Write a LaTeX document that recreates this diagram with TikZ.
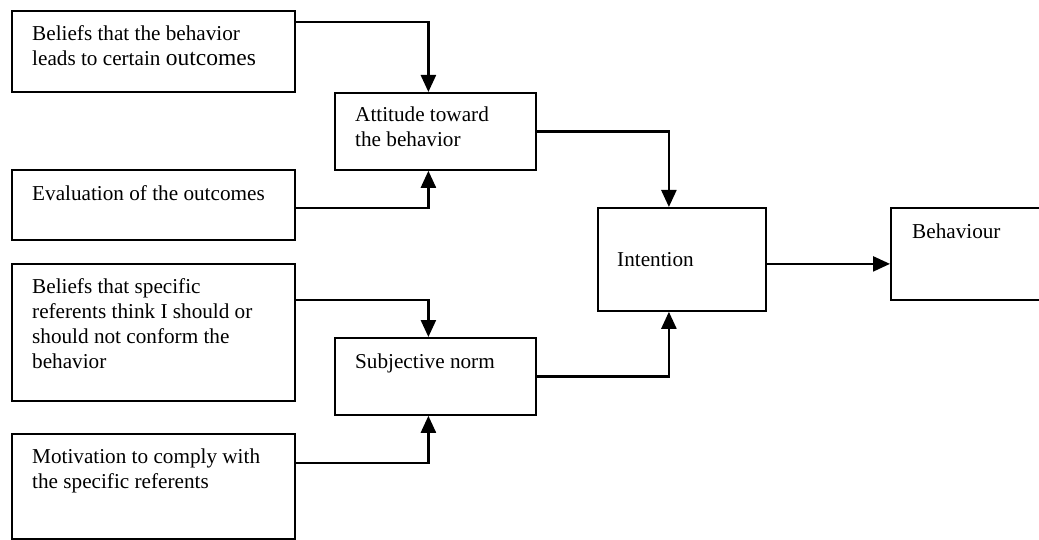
\documentclass[tikz,border=0pt]{standalone}
\usepackage{fontspec}
\setmainfont{Liberation Serif}
\usetikzlibrary{arrows.meta,calc}

\tikzset{
  box/.style={draw=black, line width=1.8pt, rectangle, inner sep=0pt, anchor=north west},
  txt/.style={anchor=north west, inner sep=0pt, align=left,
    font=\fontsize{21.2}{25}\selectfont},
  link/.style={line width=2.4pt, -{Triangle[length=17pt,width=15pt]}},
}

\begin{document}
\begin{tikzpicture}[x=1pt, y=-1pt]
  \useasboundingbox (0,0) rectangle (1039,540);

  % boxes (top-left corner, size)
  \node[box, minimum width=283pt, minimum height=81pt]  (b1)  at (11,10)  {};
  \node[box, minimum width=283pt, minimum height=70pt]  (b2)  at (11,169) {};
  \node[box, minimum width=283pt, minimum height=137pt] (b3)  at (11,263) {};
  \node[box, minimum width=283pt, minimum height=105pt] (b4)  at (11,433) {};
  \node[box, minimum width=201pt, minimum height=77pt]  (att) at (334,92)  {};
  \node[box, minimum width=201pt, minimum height=77pt]  (sn)  at (334,337) {};
  \node[box, minimum width=168pt, minimum height=103pt] (int) at (597,207) {};
  \node[box, minimum width=160pt, minimum height=92pt]  (beh) at (890,207) {};

  % texts, set from each box's top-left corner (strut top = baseline - 17.5)
  \node[txt] (t1) at ($(b1.north west)+(21,12.5)$)
    {\strut Beliefs that the behavior\\leads to certain {\fontsize{23.5}{25}\selectfont outcomes}};
  \node[txt] (t2) at ($(b2.north west)+(21,13.5)$) {\strut Evaluation of the outcomes};
  \node[txt] (t3) at ($(b3.north west)+(21,12.5)$)
    {\strut Beliefs that specific\\referents think I should or\\should not conform the\\behavior};
  \node[txt] (t4) at ($(b4.north west)+(21,12.5)$)
    {\strut Motivation to comply with\\the specific referents};
  \node[txt] (t5) at ($(att.north west)+(21,11.5)$) {\strut Attitude toward\\the behavior};
  \node[txt] (t6) at ($(sn.north west)+(21,13.5)$) {\strut Subjective norm};
  \node[txt] (t7) at ($(int.north west)+(20,41.5)$) {\strut Intention};
  \node[txt] (t8) at ($(beh.north west)+(22,13.5)$) {\strut Behaviour};

  % connectors
  \coordinate (io) at ($(int.east)+(0,4.5)$);
  \draw[link] ($(b1.north east)+(0,12)$) -| ($(att.north)+(-7,0)$);
  \draw[link] ($(b2.east)+(0,3)$) -| ($(att.south)+(-7,0)$);
  \draw[link] ($(b3.north east)+(0,37)$) -| ($(sn.north)+(-7,0)$);
  \draw[link] ($(b4.north east)+(0,30)$) -| ($(sn.south)+(-7,0)$);
  \draw[link] (att.east) -| ($(int.north)+(-13,0)$);
  \draw[link] (sn.east) -| ($(int.south)+(-13,0)$);
  \draw[link] (io) -- (beh.west |- io);
\end{tikzpicture}
\end{document}
